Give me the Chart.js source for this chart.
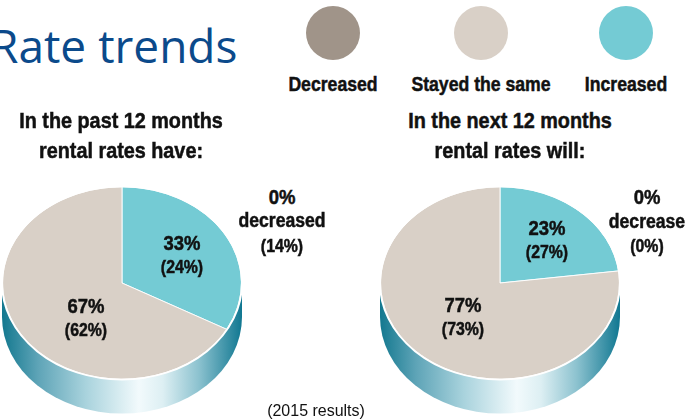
<!DOCTYPE html>
<html>
<head>
<meta charset="utf-8">
<script src="https://cdn.jsdelivr.net/npm/chart.js@4.4.1/dist/chart.umd.min.js"></script>
<style>
  body { margin: 0; background: #fff; }
  #wrap { position: relative; width: 700px; height: 419px; overflow: hidden; background: #fff; }
  canvas { position: absolute; }
  /* no condensed face installed, so squeeze Liberation Sans horizontally */
  .t { position: absolute; white-space: nowrap; line-height: 1;
       font-family: "Liberation Sans", Arial, sans-serif; font-weight: bold;
       color: #111; text-align: center; z-index: 2; }
  .heavy { -webkit-text-stroke: 0.5px #111; }
  #title { position: absolute; left: -10px; top: 22px; font-family: "Open Sans", sans-serif;
           font-size: 46px; color: #0b4a8b; line-height: 1; white-space: nowrap; }
  .dot { position: absolute; width: 54px; height: 54px; border-radius: 50%; transform: translate(-50%, -50%); }
</style>
</head>
<body>
<div id="wrap">
  <div id="title">Rate trends</div>
  <canvas id="pastChart" width="280" height="300" style="left:-18px; top:133px;"></canvas>
  <canvas id="nextChart" width="280" height="300" style="left:360px; top:133px;"></canvas>
</div>
<script>
// pie order: clockwise from 12 o'clock
const categories = ['Increased', 'Stayed the same', 'Decreased'];
const colors = ['#74cbd4', '#d9d0c7', '#a09489'];
const pastValues = [33, 67, 0];
const nextValues = [23, 77, 0];
const past2015 = [24, 62, 14];
const next2015 = [27, 73, 0];

const wrap = document.getElementById('wrap');
function addText(txt, x, y, size, sx, weight) {
    const d = document.createElement('div');
    d.className = weight ? 't' : 't heavy';
    d.textContent = txt;
    d.style.left = x + 'px';
    d.style.top = y + 'px';
    d.style.fontSize = size + 'px';
    d.style.transform = 'translate(-50%, -50%) scaleX(' + sx + ')';
    if (weight) d.style.fontWeight = weight;
    wrap.appendChild(d);
}

// legend (circle above the label)
const legendX = [626, 481, 333];
categories.forEach((c, i) => {
    const dot = document.createElement('div');
    dot.className = 'dot';
    dot.style.left = legendX[i] + 'px';
    dot.style.top = '33px';
    dot.style.background = colors[i];
    wrap.appendChild(dot);
    addText(c, legendX[i], 83, 21, 0.84);
});

addText('In the past 12 months', 121, 121, 22, 0.9);
addText('rental rates have:', 121, 151, 22, 0.9);
addText('In the next 12 months', 510, 121, 22, 0.9);
addText('rental rates will:', 510, 151, 22, 0.9);

addText(pastValues[0] + '%', 182, 242, 21, 0.88);
addText('(' + past2015[0] + '%)', 182, 267, 18, 0.88);
addText(pastValues[1] + '%', 86, 305, 21, 0.88);
addText('(' + past2015[1] + '%)', 86, 330, 18, 0.88);
addText(pastValues[2] + '%', 282, 196, 21, 0.88);
addText('decreased', 282, 220, 20, 0.88);
addText('(' + past2015[2] + '%)', 282, 246, 18, 0.88);

addText(nextValues[0] + '%', 547, 227, 21, 0.88);
addText('(' + next2015[0] + '%)', 547, 252, 18, 0.88);
addText(nextValues[1] + '%', 463, 304, 21, 0.88);
addText('(' + next2015[1] + '%)', 463, 329, 18, 0.88);
addText(nextValues[2] + '%', 647, 196, 21, 0.88);
addText('decrease', 647, 221, 20, 0.88);
addText('(' + next2015[2] + '%)', 647, 246, 18, 0.88);

addText('(2015 results)', 316, 410, 17, 0.94, 'normal');

// squash the pie into an ellipse and draw the teal side below it
const tiltPlugin = {
    id: 'tilt',
    beforeDatasetsDraw(chart, args, opts) {
        const arc = chart.getDatasetMeta(0).data[0];
        const cx = arc.x, cy = arc.y, r = arc.outerRadius + 0.5;
        const ry = r * opts.squash;
        const ctx = chart.ctx;
        ctx.save();
        const g = ctx.createLinearGradient(cx - r, 0, cx + r, 0);
        g.addColorStop(0, '#13788f');
        g.addColorStop(0.15, '#5ea4b7');
        g.addColorStop(0.35, '#a9d3dd');
        g.addColorStop(0.57, '#f2fafc');
        g.addColorStop(0.67, '#ddeff3');
        g.addColorStop(0.82, '#8cc2cf');
        g.addColorStop(1, '#107791');
        ctx.beginPath();
        ctx.moveTo(cx + r, cy);
        ctx.lineTo(cx + r, cy + opts.depth);
        ctx.ellipse(cx, cy + opts.depth, r, ry, 0, 0, Math.PI);
        ctx.lineTo(cx - r, cy);
        ctx.closePath();
        ctx.fillStyle = g;
        ctx.fill();
        ctx.restore();

        ctx.save();
        ctx.translate(cx, cy);
        ctx.scale(1, opts.squash);
        ctx.translate(-cx, -cy);
    },
    afterDatasetsDraw(chart) {
        const arc = chart.getDatasetMeta(0).data[0];
        const ctx = chart.ctx;
        ctx.beginPath();
        ctx.arc(arc.x, arc.y, arc.outerRadius + 0.5, 0, Math.PI * 2);
        ctx.strokeStyle = '#ffffff';
        ctx.lineWidth = 2;
        ctx.stroke();
        ctx.restore();
    }
};

function makePie(id, values) {
    return new Chart(document.getElementById(id), {
        type: 'pie',
        data: {
            labels: categories,
            datasets: [{
                data: values,
                backgroundColor: colors,
                borderColor: '#ffffff',
                borderWidth: 1
            }]
        },
        options: {
            responsive: false,
            animation: false,
            events: [],
            layout: { padding: { left: 20, right: 20, top: 30, bottom: 30 } },
            plugins: {
                legend: { display: false },
                tooltip: { enabled: false },
                tilt: { squash: 0.805, depth: 34 }
            }
        },
        plugins: [tiltPlugin]
    });
}

const pastChart = makePie('pastChart', pastValues);
const nextChart = makePie('nextChart', nextValues);
</script>
</body>
</html>
